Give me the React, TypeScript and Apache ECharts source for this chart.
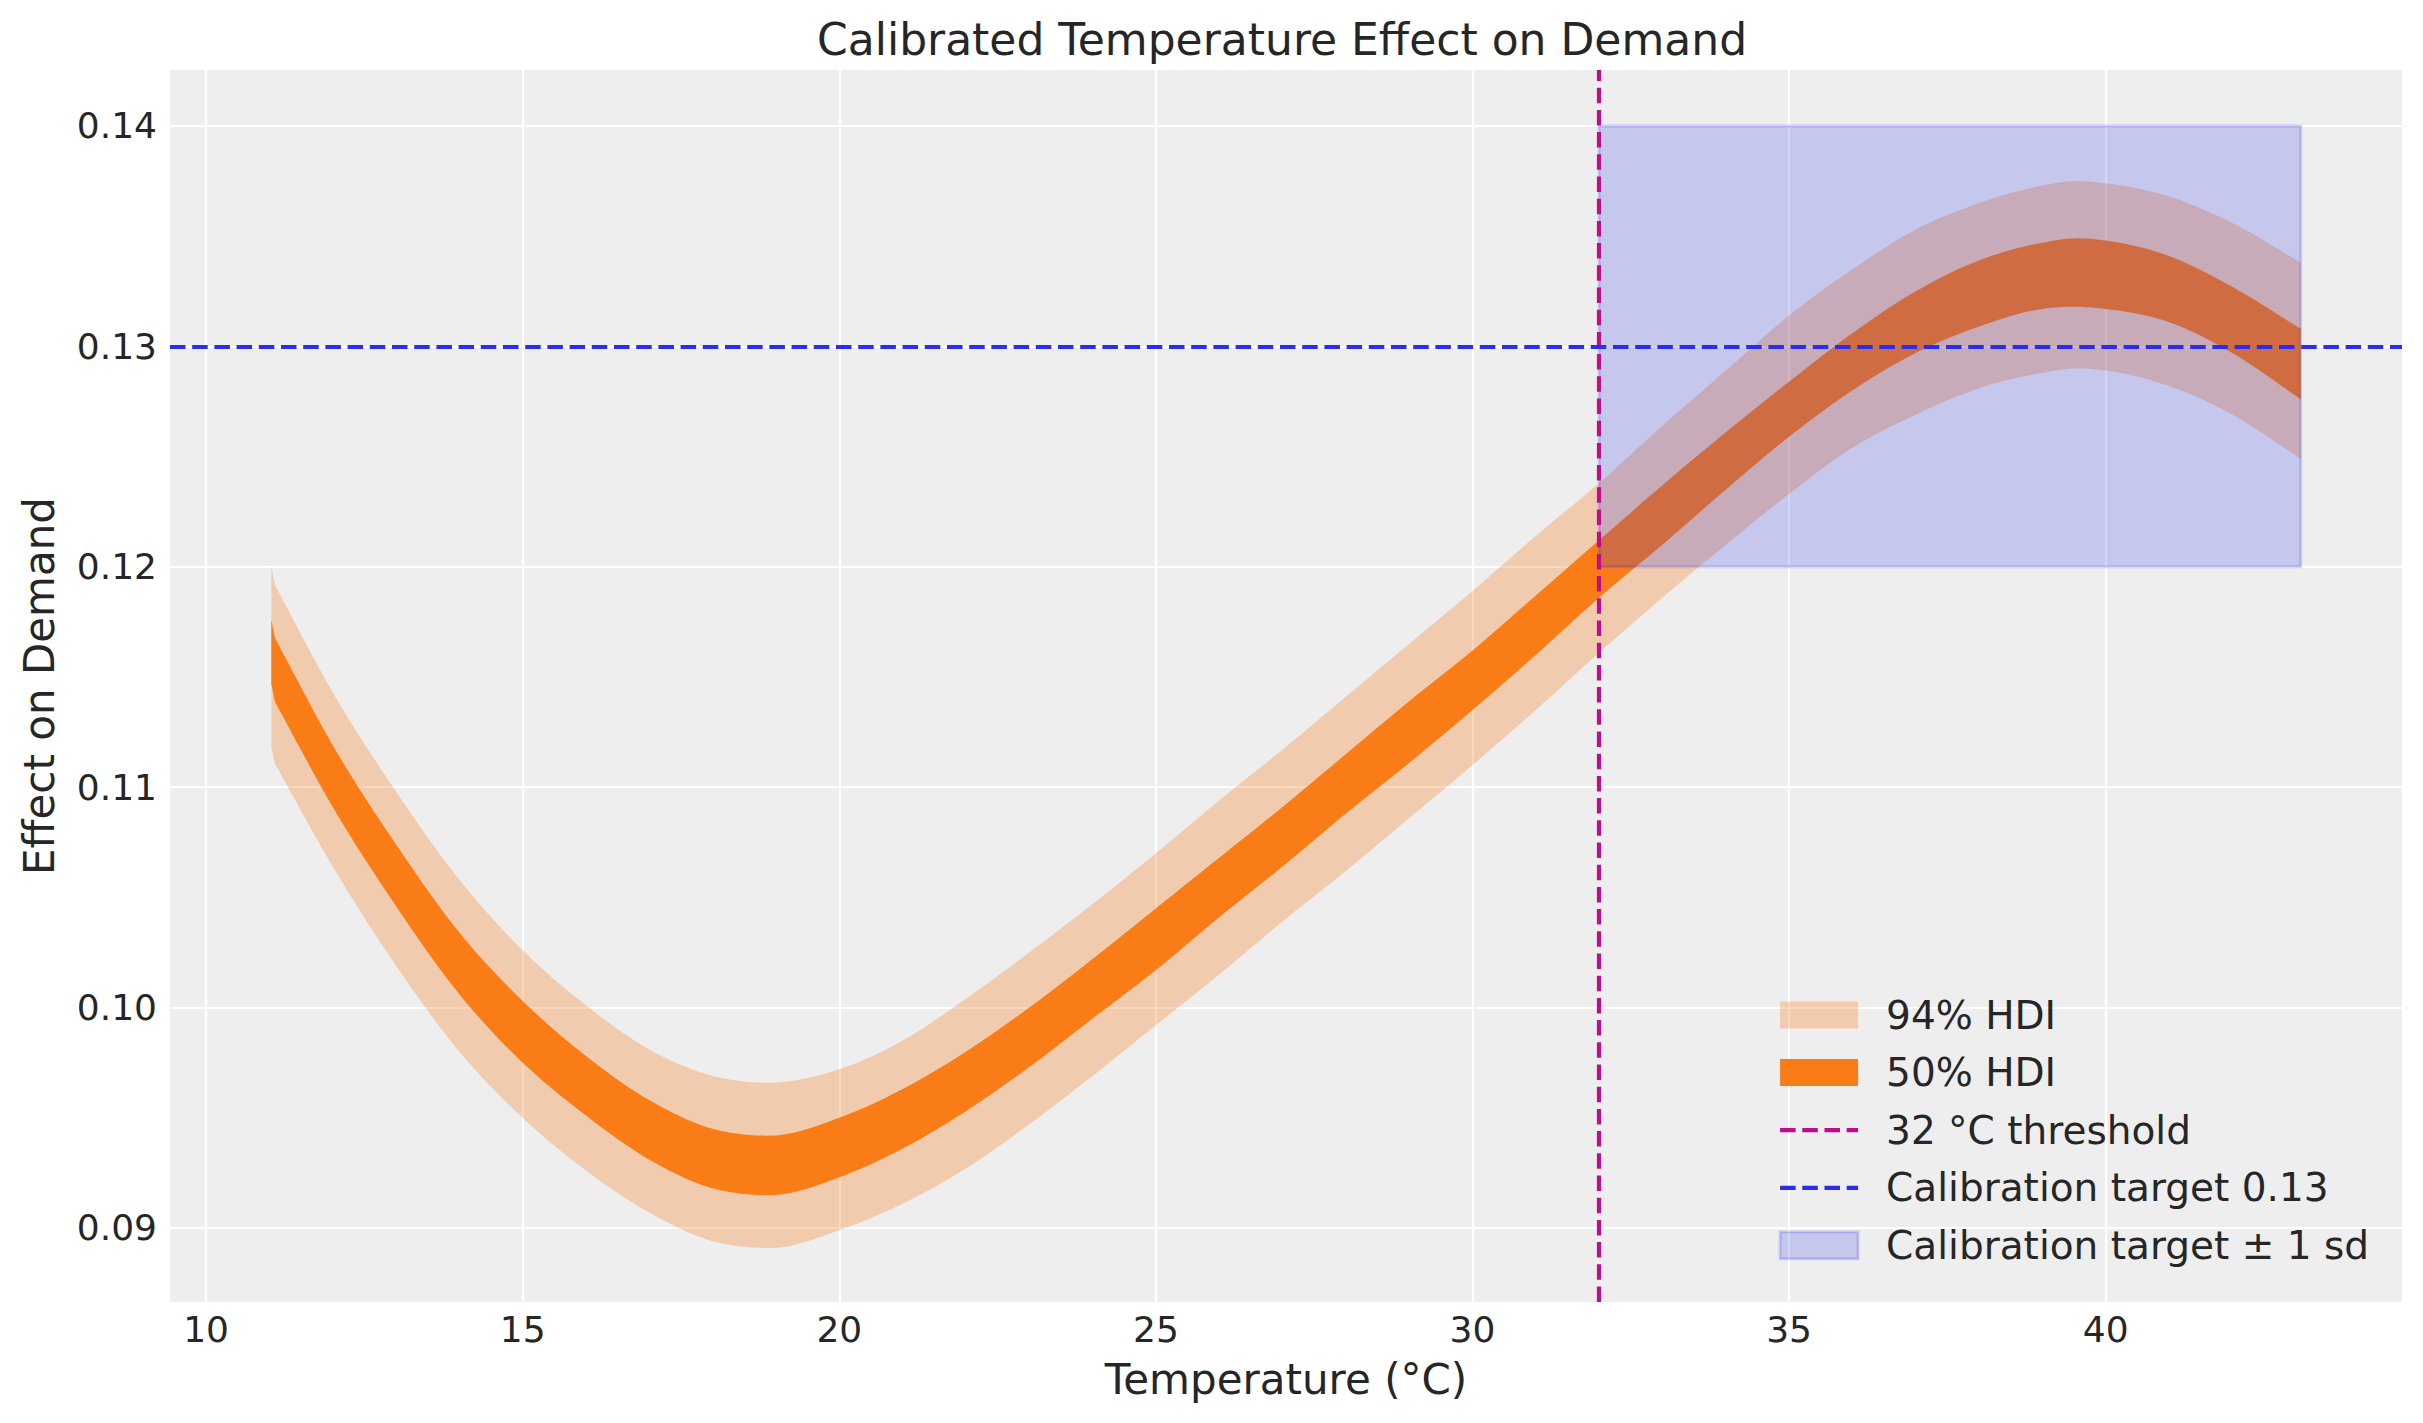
import React, { useEffect, useRef } from "react";
import * as echarts from "echarts";

// ---- data ----
const temps = [11.03, 11.1, 12, 13, 14, 15, 16, 17, 18, 18.7, 19, 20, 21, 22, 23, 24, 25, 26, 27, 28, 29, 30, 31, 32, 33, 34, 35, 36, 37, 38, 39, 39.5, 40, 41, 42, 43.08];
const hdi94High = [0.1200, 0.1191, 0.1143, 0.1098, 0.1058, 0.1026, 0.1001, 0.0981, 0.0969, 0.0966, 0.0966, 0.0972, 0.0985, 0.1004, 0.1025, 0.1047, 0.1070, 0.1094, 0.1117, 0.1141, 0.1165, 0.1189, 0.1214, 0.1238, 0.1264, 0.1289, 0.1314, 0.1335, 0.1353, 0.1365, 0.1373, 0.1375, 0.1374, 0.1368, 0.1356, 0.1338];
const hdi50High = [0.1176, 0.1167, 0.1119, 0.1074, 0.1034, 0.1003, 0.0978, 0.0958, 0.0945, 0.0942, 0.0942, 0.0950, 0.0963, 0.0980, 0.1000, 0.1022, 0.1045, 0.1068, 0.1091, 0.1115, 0.1139, 0.1162, 0.1187, 0.1212, 0.1237, 0.1261, 0.1284, 0.1306, 0.1325, 0.1339, 0.1347, 0.1349, 0.1348, 0.1341, 0.1327, 0.1308];
const hdi50Low = [0.1147, 0.1138, 0.1091, 0.1046, 0.1006, 0.0975, 0.0951, 0.0931, 0.0918, 0.0915, 0.0915, 0.0923, 0.0936, 0.0953, 0.0973, 0.0995, 0.1017, 0.1041, 0.1064, 0.1088, 0.1111, 0.1135, 0.1160, 0.1186, 0.1210, 0.1235, 0.1259, 0.1280, 0.1297, 0.1309, 0.1317, 0.1318, 0.1317, 0.1311, 0.1297, 0.1276];
const hdi94Low = [0.1118, 0.1110, 0.1064, 0.1019, 0.0980, 0.0950, 0.0926, 0.0907, 0.0894, 0.0891, 0.0891, 0.0899, 0.0911, 0.0927, 0.0947, 0.0969, 0.0992, 0.1015, 0.1039, 0.1062, 0.1086, 0.1110, 0.1135, 0.1161, 0.1186, 0.1210, 0.1233, 0.1254, 0.1269, 0.1281, 0.1288, 0.1290, 0.1289, 0.1282, 0.1269, 0.1249];

const thresholdTemp = 32;
const calibTarget = 0.13;
const calibSd = 0.01;

const seriesNames = ["94% HDI", "50% HDI", "32 °C threshold", "Calibration target 0.13", "Calibration target ± 1 sd"];

const ORANGE = "#fa7c17";
const ORANGE_LIGHT = "rgba(250,124,23,0.3)";
const MAGENTA = "#c10c90";
const BLUE = "#2a2eec";
const BLUE_FILL = "rgba(42,46,236,0.2)";
const TEXT = "#262626";
const FONT = "DejaVu Sans";
const DASH = [15.5, 6.7];

// Smooth a pixel-space polyline (x increasing) with a cubic Hermite curve,
// like a line series' `smooth` option does.
function smoothPixels(pts: number[][], steps = 10): number[][] {
  const n = pts.length;
  if (n < 3) return pts;
  const h: number[] = [];
  const s: number[] = [];
  for (let i = 0; i < n - 1; i++) {
    h[i] = pts[i + 1][0] - pts[i][0];
    s[i] = (pts[i + 1][1] - pts[i][1]) / h[i];
  }
  const m: number[] = [];
  for (let i = 0; i < n; i++) {
    if (i === 0) m[i] = s[0];
    else if (i === n - 1) m[i] = s[n - 2];
    else if (h[i - 1] < 0.2 * h[i]) m[i] = s[i];
    else if (h[i] < 0.2 * h[i - 1]) m[i] = s[i - 1];
    else m[i] = (h[i] * s[i - 1] + h[i - 1] * s[i]) / (h[i - 1] + h[i]);
  }
  const out: number[][] = [pts[0]];
  for (let i = 0; i < n - 1; i++) {
    const [x0, y0] = pts[i];
    const y1 = pts[i + 1][1];
    for (let k = 1; k <= steps; k++) {
      const t = k / steps;
      const t2 = t * t;
      const t3 = t2 * t;
      const h00 = 2 * t3 - 3 * t2 + 1;
      const h10 = t3 - 2 * t2 + t;
      const h01 = -2 * t3 + 3 * t2;
      const h11 = t3 - t2;
      out.push([x0 + t * h[i], h00 * y0 + h10 * h[i] * m[i] + h01 * y1 + h11 * h[i] * m[i + 1]]);
    }
  }
  return out;
}

function bandSeries(name: string, low: number[], high: number[], fill: string) {
  return {
    type: "custom",
    name,
    coordinateSystem: "cartesian2d",
    silent: true,
    z: 2,
    itemStyle: { color: fill },
    data: [[temps[0], low[0]]],
    renderItem: (_params: any, api: any) => {
      const upper = smoothPixels(temps.map((t, i) => api.coord([t, high[i]])));
      const lower = smoothPixels(temps.map((t, i) => api.coord([t, low[i]]))).reverse();
      return {
        type: "polygon",
        shape: { points: upper.concat(lower) },
        style: { fill, stroke: "none" },
      };
    },
  };
}

export default function App() {
  const ref = useRef<HTMLDivElement>(null);

  useEffect(() => {
    if (!ref.current) return;
    const chart = echarts.init(ref.current, undefined, { renderer: "svg" });
    const tMax = Math.max(...temps);
    const hiddenSymbol = { color: "rgba(0,0,0,0)", borderWidth: 0, opacity: 0 };

    const option: any = {
      animation: false,
      backgroundColor: "#ffffff",
      textStyle: { fontFamily: FONT, color: TEXT },
      title: {
        text: "Calibrated Temperature Effect on Demand",
        left: 817,
        top: 17,
        padding: 0,
        textStyle: { fontFamily: FONT, fontSize: 44, fontWeight: "normal", color: TEXT, lineHeight: 44 },
      },
      grid: { left: 170, right: 21, top: 70, bottom: 121, containLabel: false, show: true, backgroundColor: "#eeeeee", borderWidth: 0 },
      xAxis: {
        type: "value",
        min: 9.43,
        max: 44.68,
        minInterval: 5,
        maxInterval: 5,
        name: "Temperature (°C)",
        nameLocation: "middle",
        nameGap: 56,
        nameTextStyle: { fontFamily: FONT, fontSize: 42, color: TEXT, lineHeight: 42 },
        axisLine: { show: false },
        axisTick: { show: false },
        axisLabel: {
          fontFamily: FONT,
          fontSize: 36,
          color: TEXT,
          lineHeight: 36,
          margin: 9,
          showMinLabel: false,
          showMaxLabel: false,
          formatter: (v: number) => (Math.abs(v / 5 - Math.round(v / 5)) < 1e-6 ? String(Math.round(v)) : ""),
        },
        splitLine: { show: true, showMinLine: false, showMaxLine: false, lineStyle: { color: "#ffffff", width: 2.2 } },
      },
      yAxis: {
        type: "value",
        min: 0.08664,
        max: 0.14254,
        minInterval: 0.01,
        maxInterval: 0.01,
        name: "Effect on Demand",
        nameLocation: "middle",
        nameGap: 110,
        nameRotate: 90,
        nameTextStyle: { fontFamily: FONT, fontSize: 42, color: TEXT, lineHeight: 42 },
        axisLine: { show: false },
        axisTick: { show: false },
        axisLabel: {
          fontFamily: FONT,
          fontSize: 36,
          color: TEXT,
          margin: 13,
          showMinLabel: false,
          showMaxLabel: false,
          formatter: (v: number) => (Math.abs(v * 100 - Math.round(v * 100)) < 1e-6 ? v.toFixed(2) : ""),
        },
        splitLine: { show: true, showMinLine: false, showMaxLine: false, lineStyle: { color: "#ffffff", width: 2.2 } },
      },
      legend: {
        orient: "vertical",
        left: 1778,
        top: 995,
        padding: 0,
        itemWidth: 78,
        itemHeight: 27,
        itemGap: 17.6,
        selectedMode: false,
        textStyle: { fontFamily: FONT, fontSize: 39, color: TEXT, lineHeight: 40, padding: [0, 0, 0, 23] },
        data: [
          { name: seriesNames[0], icon: "rect", itemStyle: { color: ORANGE_LIGHT, borderWidth: 0 } },
          { name: seriesNames[1], icon: "rect", itemStyle: { color: ORANGE, borderWidth: 0 } },
          { name: seriesNames[2], itemStyle: hiddenSymbol, lineStyle: { color: MAGENTA, width: 4.2, type: DASH } },
          { name: seriesNames[3], itemStyle: hiddenSymbol, lineStyle: { color: BLUE, width: 4.2, type: DASH } },
          { name: seriesNames[4], icon: "rect", itemStyle: { color: BLUE_FILL, borderColor: BLUE_FILL, borderWidth: 2.8 } },
        ],
      },
      series: [
        bandSeries(seriesNames[0], hdi94Low, hdi94High, ORANGE_LIGHT),
        bandSeries(seriesNames[1], hdi50Low, hdi50High, ORANGE),
        {
          type: "line",
          name: seriesNames[2],
          data: [],
          symbol: "none",
          color: MAGENTA,
          lineStyle: { color: MAGENTA, width: 4.2, type: DASH },
          markLine: {
            silent: true,
            symbol: ["none", "none"],
            label: { show: false },
            emphasis: { disabled: true },
            z: 6,
            lineStyle: { color: MAGENTA, width: 4.2, type: DASH },
            data: [{ xAxis: thresholdTemp }],
          },
        },
        {
          type: "line",
          name: seriesNames[3],
          data: [],
          symbol: "none",
          color: BLUE,
          lineStyle: { color: BLUE, width: 4.2, type: DASH },
          markLine: {
            silent: true,
            symbol: ["none", "none"],
            label: { show: false },
            emphasis: { disabled: true },
            z: 6,
            lineStyle: { color: BLUE, width: 4.2, type: DASH },
            data: [{ yAxis: calibTarget }],
          },
        },
        {
          type: "line",
          name: seriesNames[4],
          data: [],
          symbol: "none",
          color: BLUE_FILL,
          markArea: {
            silent: true,
            z: 4,
            label: { show: false },
            emphasis: { disabled: true },
            itemStyle: { color: BLUE_FILL, borderColor: BLUE_FILL, borderWidth: 2.8 },
            data: [[{ xAxis: thresholdTemp, yAxis: calibTarget - calibSd }, { xAxis: tMax, yAxis: calibTarget + calibSd }]],
          },
        },
      ],
    };

    chart.setOption(option);
    return () => chart.dispose();
  }, []);

  return <div ref={ref} style={{ position: "absolute", left: 0, top: 0, width: 2423, height: 1423 }} />;
}
